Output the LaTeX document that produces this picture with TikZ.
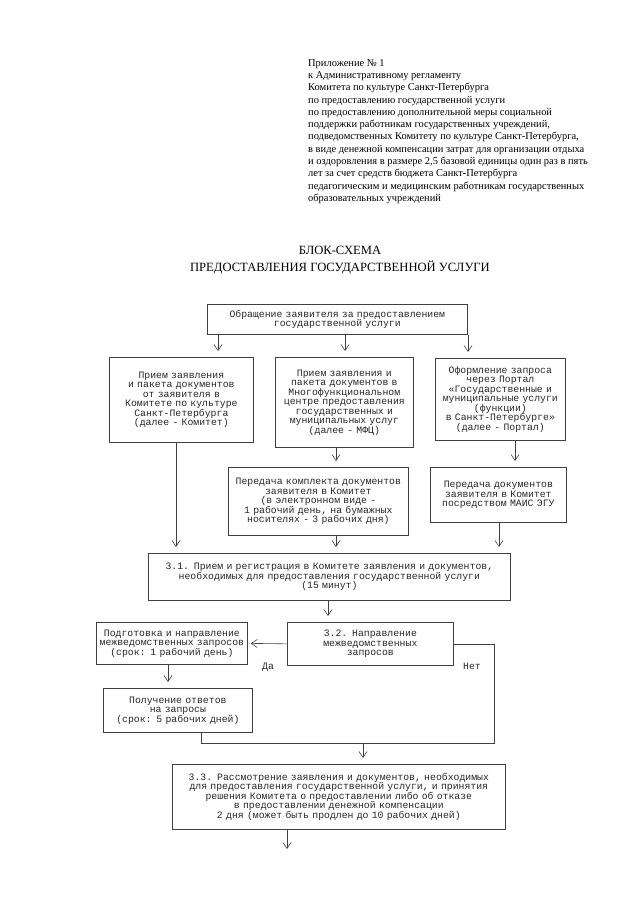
\documentclass[tikz,border=0pt]{standalone}
\usepackage{fontspec}
\setmainfont{Liberation Serif}
\setmonofont{Liberation Mono}
\usetikzlibrary{arrows.meta}
\newcommand{\flowfont}{\ttfamily\fontsize{9.8}{9.5}\selectfont}
\tikzset{tbox/.style={
    rectangle,
    draw=black!75,
    line width=0.7pt,
    inner sep=0pt,
    align=center,
    anchor=north west,
    text=black!85,
    font=\flowfont
  },
  varrow/.style={draw=black!75,line width=0.6pt,
    -{Straight Barb[length=6pt,width=8pt]},shorten >=6pt},
  harrow/.style={varrow,shorten >=3pt},
  wire/.style={draw=black!75,line width=0.6pt},
  lbl/.style={font=\flowfont,text=black!85}
}

\begin{document}
\begin{tikzpicture}[x=1pt,y=-1pt]
  \useasboundingbox (0,0) rectangle (640,905);
  \node[anchor=north west,align=left,inner sep=0pt,
    font=\fontsize{10.45}{12.3}\selectfont] (app) at (308,59) {
    Приложение № 1\\
    к Административному регламенту\\
    Комитета по культуре Санкт-Петербурга\\
    по предоставлению государственной услуги\\
    по предоставлению дополнительной меры социальной\\
    поддержки работникам государственных учреждений,\\
    подведомственных Комитету по культуре Санкт-Петербурга,\\
    в виде денежной компенсации затрат для организации отдыха\\
    и оздоровления в размере 2,5 базовой единицы один раз в пять\\
    лет за счет средств бюджета Санкт-Петербурга\\
    педагогическим и медицинским работникам государственных\\
    образовательных учреждений};
  \node[align=center,inner sep=0pt,font=\fontsize{12.6}{17}\selectfont]
    (title) at (340,260) {БЛОК-СХЕМА\\ПРЕДОСТАВЛЕНИЯ ГОСУДАРСТВЕННОЙ УСЛУГИ};

  \node[tbox,text width=260pt,minimum height=30pt] (req) at (207,304)
    {Обращение заявителя за предоставлением\\государственной услуги};
  \node[tbox,text width=144pt,minimum height=85pt] (kom) at (109,357)
    {Прием заявления\\и пакета документов\\от заявителя в\\Комитете по культуре\\Санкт-Петербурга\\(далее - Комитет)};
  \node[tbox,text width=138pt,minimum height=90pt] (mfc) at (275,357)
    {Прием заявления и\\пакета документов в\\Многофункциональном\\центре предоставления\\государственных и\\муниципальных услуг\\(далее - МФЦ)};
  \node[tbox,text width=130pt,minimum height=82pt] (portal) at (435,358)
    {Оформление запроса\\через Портал\\«Государственные и\\муниципальные услуги\\(функции)\\в Санкт-Петербурге»\\(далее - Портал)};
  \node[tbox,text width=180pt,minimum height=68pt] (transfer) at (228,467)
    {Передача комплекта документов\\заявителя в Комитет\\(в электронном виде -\\1 рабочий день, на бумажных\\носителях - 3 рабочих дня)};
  \node[tbox,text width=136pt,minimum height=55pt] (maic) at (430,467)
    {Передача документов\\заявителя в Комитет\\посредством МАИС ЭГУ};
  \node[tbox,text width=362pt,minimum height=47pt] (reg) at (148,553)
    {3.1. Прием и регистрация в Комитете заявления и документов,\\необходимых для предоставления государственной услуги\\(15 минут)};
  \node[tbox,text width=166pt,minimum height=43pt] (send) at (287,622)
    {3.2. Направление\\межведомственных\\запросов};
  \node[tbox,text width=151pt,minimum height=42pt] (prep) at (96,622)
    {Подготовка и направление\\межведомственных запросов\\(срок: 1 рабочий день)};
  \node[tbox,text width=149pt,minimum height=44pt] (resp) at (103,688)
    {Получение ответов\\на запросы\\(срок: 5 рабочих дней)};
  \node[tbox,text width=333pt,minimum height=65pt] (review) at (172,764)
    {3.3. Рассмотрение заявления и документов, необходимых\\для предоставления государственной услуги, и принятия\\решения Комитета о предоставлении либо об отказе\\в предоставлении денежной компенсации\\2 дня (может быть продлен до 10 рабочих дней)};

  \node[lbl] (yes) at (268,667) {Да};
  \node[lbl] (no) at (472,666) {Нет};

  \coordinate (c1) at (218,0);
  \coordinate (c2) at (345,0);
  \coordinate (c3) at (468,0);
  \coordinate (c4) at (515,0);
  \coordinate (c5) at (176,0);
  \coordinate (c6) at (336,0);
  \coordinate (c7) at (499,0);
  \coordinate (c8) at (328,0);
  \coordinate (c9) at (168,0);
  \coordinate (join) at (363,743);
  \coordinate (nocorner) at (494,743);
  \coordinate (out) at (287,855);

  \draw[varrow] (req.south -| c1) -- (kom.north -| c1);
  \draw[varrow] (req.south -| c2) -- (mfc.north -| c2);
  \draw[varrow] (req.south -| c3) -- (portal.north -| c3);
  \draw[varrow] (mfc.south -| c6) -- (transfer.north -| c6);
  \draw[varrow] (portal.south -| c4) -- (maic.north -| c4);
  \draw[varrow] (kom.south -| c5) -- (reg.north -| c5);
  \draw[varrow] (transfer.south -| c6) -- (reg.north -| c6);
  \draw[varrow] (maic.south -| c7) -- (reg.north -| c7);
  \draw[varrow] (reg.south -| c8) -- (send.north -| c8);
  \draw[harrow] (send.west) -- (prep.east);
  \draw[varrow] (prep.south -| c9) -- (resp.north -| c9);
  \draw[wire] (send.east) -| (nocorner) -- (join);
  \draw[wire] ([xshift=23pt]resp.south) |- (join);
  \draw[varrow] (join) -- (join |- review.north);
  \draw[varrow] (review.south -| out) -- (out);
\end{tikzpicture}
\end{document}
